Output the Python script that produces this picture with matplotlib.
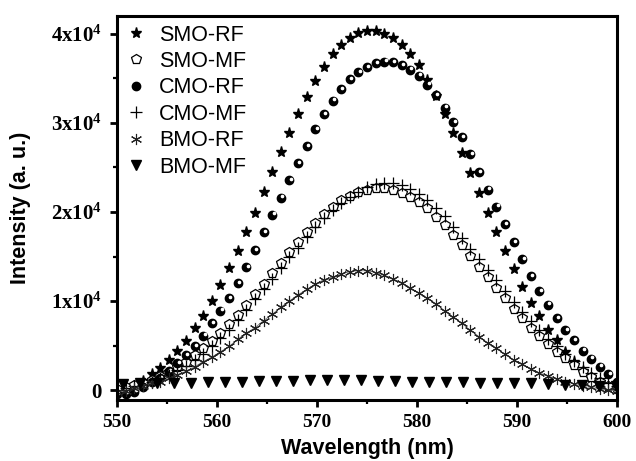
import numpy as np
import matplotlib.pyplot as plt
import matplotlib.transforms as mtransforms
from matplotlib.ticker import MultipleLocator, FuncFormatter

plt.rcParams['mathtext.fontset'] = 'custom'
plt.rcParams['mathtext.rm'] = 'Liberation Serif:bold'
plt.rcParams['mathtext.it'] = 'Liberation Serif:bold'
plt.rcParams['mathtext.bf'] = 'Liberation Serif:bold'

# wavelength grid (nm) shared by the first five spectra
wavelength = [550.00, 550.86, 551.72, 552.59, 553.45, 554.31, 555.17, 556.03, 556.90, 557.76,
              558.62, 559.48, 560.34, 561.21, 562.07, 562.93, 563.79, 564.66, 565.52, 566.38,
              567.24, 568.10, 568.97, 569.83, 570.69, 571.55, 572.41, 573.28, 574.14, 575.00,
              575.86, 576.72, 577.59, 578.45, 579.31, 580.17, 581.03, 581.90, 582.76, 583.62,
              584.48, 585.34, 586.21, 587.07, 587.93, 588.79, 589.66, 590.52, 591.38, 592.24,
              593.10, 593.97, 594.83, 595.69, 596.55, 597.41, 598.28, 599.14, 600.00]

# intensities in units of 1e4
smo_rf = [0.00, 0.02, 0.05, 0.10, 0.18, 0.25, 0.34, 0.44, 0.55, 0.70,
          0.83, 1.00, 1.18, 1.37, 1.56, 1.78, 1.99, 2.22, 2.45, 2.67,
          2.89, 3.10, 3.29, 3.47, 3.63, 3.77, 3.88, 3.96, 4.01, 4.03,
          4.03, 4.00, 3.95, 3.88, 3.78, 3.65, 3.48, 3.30, 3.10, 2.89,
          2.66, 2.44, 2.21, 1.99, 1.77, 1.56, 1.36, 1.16, 0.98, 0.83,
          0.68, 0.56, 0.43, 0.31, 0.21, 0.13, 0.07, 0.03, 0.01]

smo_mf = [0.01, 0.03, 0.06, 0.08, 0.11, 0.16, 0.20, 0.26, 0.31, 0.39,
          0.47, 0.55, 0.64, 0.74, 0.84, 0.96, 1.08, 1.19, 1.31, 1.43,
          1.55, 1.66, 1.78, 1.88, 1.98, 2.06, 2.13, 2.18, 2.22, 2.25,
          2.27, 2.27, 2.25, 2.21, 2.17, 2.11, 2.04, 1.94, 1.85, 1.74,
          1.63, 1.51, 1.38, 1.27, 1.15, 1.03, 0.91, 0.81, 0.70, 0.61,
          0.52, 0.43, 0.36, 0.28, 0.20, 0.15, 0.09, 0.04, 0.01]

cmo_rf = [-0.05, -0.04, -0.02, 0.03, 0.09, 0.13, 0.21, 0.30, 0.39, 0.49,
          0.61, 0.75, 0.89, 1.03, 1.20, 1.38, 1.57, 1.77, 1.97, 2.16,
          2.36, 2.55, 2.74, 2.93, 3.10, 3.25, 3.38, 3.49, 3.57, 3.63,
          3.67, 3.69, 3.68, 3.65, 3.60, 3.53, 3.43, 3.31, 3.17, 3.01,
          2.84, 2.65, 2.45, 2.25, 2.06, 1.86, 1.66, 1.47, 1.28, 1.11,
          0.96, 0.81, 0.67, 0.56, 0.44, 0.35, 0.26, 0.18, 0.09]

cmo_mf = [0.00, 0.02, 0.04, 0.06, 0.09, 0.13, 0.17, 0.22, 0.27, 0.34,
          0.41, 0.49, 0.58, 0.68, 0.79, 0.90, 1.02, 1.13, 1.25, 1.37,
          1.49, 1.60, 1.72, 1.83, 1.93, 2.02, 2.10, 2.17, 2.23, 2.28,
          2.31, 2.33, 2.33, 2.30, 2.26, 2.20, 2.13, 2.05, 1.95, 1.83,
          1.71, 1.59, 1.47, 1.35, 1.24, 1.11, 0.99, 0.88, 0.77, 0.67,
          0.57, 0.49, 0.41, 0.33, 0.26, 0.19, 0.13, 0.08, 0.04]

bmo_rf = [-0.02, -0.01, 0.02, 0.04, 0.08, 0.09, 0.13, 0.17, 0.21, 0.26,
          0.32, 0.37, 0.43, 0.49, 0.57, 0.64, 0.70, 0.78, 0.85, 0.93,
          1.00, 1.07, 1.13, 1.19, 1.24, 1.27, 1.30, 1.33, 1.34, 1.34,
          1.32, 1.29, 1.25, 1.20, 1.15, 1.09, 1.03, 0.97, 0.89, 0.82,
          0.75, 0.67, 0.60, 0.53, 0.47, 0.40, 0.34, 0.29, 0.24, 0.19,
          0.16, 0.12, 0.09, 0.07, 0.04, 0.03, 0.01, 0.00, -0.01]

# BMO-MF was measured on a coarser grid
wavelength_bmo_mf = [550.6, 552.3, 554.0, 555.7, 557.4, 559.1, 560.8, 562.5, 564.2, 565.9,
                     567.6, 569.3, 571.0, 572.7, 574.4, 576.1, 577.8, 579.5, 581.2, 582.9,
                     584.6, 586.3, 588.0, 589.7, 591.4, 593.1, 594.8, 596.5, 598.2, 599.9]
bmo_mf = [0.07, 0.08, 0.08, 0.08, 0.08, 0.09, 0.09, 0.09, 0.10, 0.10,
          0.10, 0.11, 0.11, 0.11, 0.11, 0.10, 0.10, 0.09, 0.09, 0.09,
          0.09, 0.08, 0.08, 0.08, 0.08, 0.07, 0.06, 0.06, 0.05, 0.05]

labels = ["SMO-RF", "SMO-MF", "CMO-RF", "CMO-MF", "BMO-RF", "BMO-MF"]

fig = plt.figure(figsize=(6.36, 4.61), dpi=100)
ax = fig.add_axes([117 / 636, 61 / 461, 500 / 636, 384 / 461])

x = np.array(wavelength)
s = 1e4
ax.plot(x, np.array(smo_rf) * s, ls='none', marker='*', ms=8, color='black', label=labels[0])
ax.plot(x, np.array(smo_mf) * s, ls='none', marker='p', ms=7, mfc='white', mec='black',
        mew=0.9, label=labels[1])
ax.plot(x, np.array(cmo_rf) * s, ls='none', marker='o', ms=6, color='black', label=labels[2])
# small highlight on the shaded CMO-RF spheres
shine = mtransforms.offset_copy(ax.transData, fig=fig, x=1.0, y=1.0, units='points')
ax.plot(x, np.array(cmo_rf) * s, ls='none', marker='o', ms=1.6, color='white',
        transform=shine)
ax.plot(x, np.array(cmo_mf) * s, ls='none', marker='+', ms=8, mew=0.9, color='black',
        label=labels[3])
# thin connecting line under the BMO-RF asterisks
ax.plot(x, np.array(bmo_rf) * s, ls='-', lw=0.6, color='#777777')
ax.plot(x, np.array(bmo_rf) * s, ls='none', marker=(6, 2, 0), ms=8,
        mec='#222222', mew=0.8, label=labels[4])
ax.plot(wavelength_bmo_mf, np.array(bmo_mf) * s, ls='none', marker='v', ms=7.5, color='black',
        label=labels[5])

ax.set_xlim(550, 600)
ax.set_ylim(-1120, 42020)

ax.xaxis.set_major_locator(MultipleLocator(10))
ax.xaxis.set_minor_locator(MultipleLocator(5))
ax.yaxis.set_major_locator(MultipleLocator(10000))
ax.yaxis.set_minor_locator(MultipleLocator(5000))


def ylab(v, pos):
    if abs(v) < 1:
        return "0"
    return "%dx10$^{4}$" % round(v / 1e4)


ax.yaxis.set_major_formatter(FuncFormatter(ylab))

for sp in ax.spines.values():
    sp.set_linewidth(2.2)

ax.tick_params(which='major', direction='out', length=5, width=2, top=False, right=False)
ax.tick_params(which='minor', direction='out', length=3, width=1.6, top=False, right=False)
ax.tick_params(axis='x', pad=5)
ax.tick_params(axis='y', pad=6)
for lab in ax.get_xticklabels():
    lab.set_fontfamily('Liberation Serif')
    lab.set_fontweight('bold')
    lab.set_fontsize(14)
for lab in ax.get_yticklabels():
    lab.set_fontfamily('Liberation Serif')
    lab.set_fontweight('bold')
    lab.set_fontsize(15)

ax.set_xlabel("Wavelength (nm)", fontfamily='Liberation Sans', fontweight='bold', fontsize=15.5)
ax.set_ylabel("Intensity (a. u.)", fontfamily='Liberation Sans', fontweight='bold', fontsize=15.5)
ax.xaxis.set_label_coords(0.5, -0.1)
ax.yaxis.set_label_coords(-0.172, 0.5)

ax.legend(loc='upper left', frameon=False, prop={'family': 'Liberation Sans', 'size': 15.5},
          handlelength=1.0, handletextpad=0.55, labelspacing=0.25,
          borderaxespad=0.0, bbox_to_anchor=(0.0, 1.0))

fig.savefig('out.png', dpi=100)
